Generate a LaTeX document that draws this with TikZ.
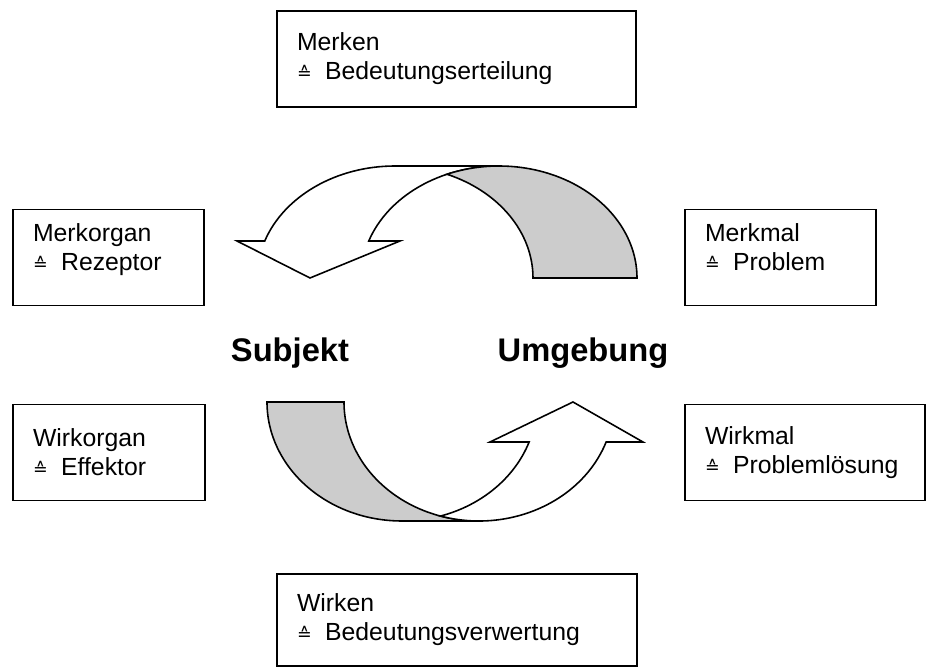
\documentclass[tikz,border=0pt]{standalone}
\usepackage{fontspec}
\setmainfont{Liberation Sans}
\newfontfamily\zeichenfont{DejaVu Sans}
\newcommand{\entspr}{\makebox[16pt][l]{\zeichenfont\fontsize{10}{12}\selectfont ≙}}
\definecolor{schatten}{gray}{0.8}
\tikzset{
  kasten/.style={draw, line width=1pt, align=left, inner xsep=0.4cm, inner ysep=0pt,
    minimum height=1.92cm, text width=#1, font=\fontsize{14.1}{16.5}\selectfont},
  titel/.style={font=\bfseries\fontsize{18.6}{22}\selectfont, anchor=base},
  band/.style={line width=0.9pt}
}
\begin{document}
\begin{tikzpicture}[x=0.02cm,y=-0.02cm]
            \useasboundingbox (0,0) rectangle (938,668);
            % Kaesten
            \node[kasten=6.38cm] (merken) at (456.5,59) {Merken\\\entspr Bedeutungserteilung};
            \node[kasten=3.02cm,text depth=1cm] (merkorgan) at (108.5,257.5) {Merkorgan\\\entspr Rezeptor};
            \node[kasten=3.02cm,text depth=1cm] (merkmal) at (780.5,257.5) {Merkmal\\\entspr Problem};
            \node[kasten=3.04cm] (wirkorgan) at (109,452.5) {Wirkorgan\\\entspr Effektor};
            \node[kasten=4.0cm] (wirkmal) at (805,452.5) {Wirkmal\\\entspr Problemlösung};
            \node[kasten=6.4cm,minimum height=1.84cm] (wirken) at (457,620) {Wirken\\\entspr Bedeutungsverwertung};
            \node[titel] (subjekt) at (290,362) {Subjekt};
            \node[titel] (umgebung) at (583,362) {Umgebung};
            % oberer Pfeil
            \draw[band,fill=white] (264.75,241) arc[start angle=199.29,end angle=270,x radius=138,y radius=112]
                -- (499,166) arc[start angle=270,end angle=199.29,x radius=138,y radius=112]
                -- (400,241) -- (310,278) -- (237,241) -- cycle;
            \draw[band,fill=schatten] (447,174.26) arc[start angle=247.86,end angle=360,x radius=138,y radius=112]
                -- (533,278) arc[start angle=0,end angle=-67.86,x radius=138,y radius=112] -- cycle;
            % unterer Pfeil
            \draw[band,fill=schatten] (267,402) arc[start angle=180,end angle=90,x radius=135,y radius=119]
                -- (479,521) arc[start angle=90,end angle=180,x radius=135,y radius=119] -- cycle;
            \draw[band,fill=white] (606.13,442) arc[start angle=19.64,end angle=106.57,x radius=135,y radius=119]
                arc[start angle=73.43,end angle=19.64,x radius=135,y radius=119]
                -- (490,442) -- (573,402) -- (643,442) -- cycle;
\end{tikzpicture}
\end{document}
